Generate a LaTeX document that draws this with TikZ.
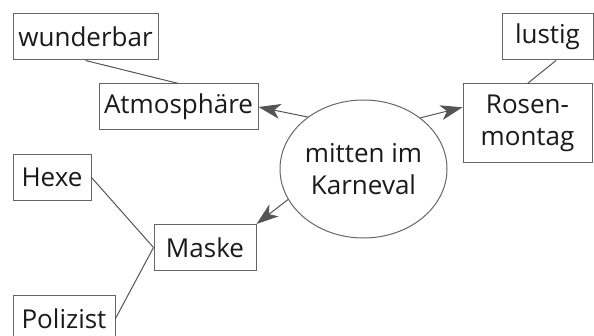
\documentclass[tikz,border=0pt]{standalone}
\usepackage{fontspec}
\setmainfont{Open Sans}
\usetikzlibrary{arrows.meta,shapes.geometric}
\definecolor{linegray}{HTML}{555555}
\definecolor{boxgray}{HTML}{666666}
\definecolor{textgray}{HTML}{1a1a1a}
\begin{document}
\begin{tikzpicture}[x=0.5pt,y=-0.5pt,
    every node/.style={draw=boxgray,line width=0.5pt,text=textgray,inner sep=0pt,
      font=\fontsize{13}{16}\selectfont},
    every edge/.style={draw=linegray,line width=0.5pt},
    wordbox/.style={rectangle,minimum height=23pt},
    topic/.style={ellipse,minimum width=83.5pt,minimum height=69pt,align=center},
    tip/.style={-{Stealth[length=11pt,width=7.5pt,inset=3pt]}}]
            \clip (0,0) rectangle (594,336);

            \node[topic] (mitte) at (363.5,169) {mitten im\\Karneval};

            \node[wordbox,minimum width=72.5pt] (wunderbar) at (85.5,37) {wunderbar};
            \node[wordbox,minimum width=79.5pt] (atmo) at (178.5,107) {Atmosphäre};

            \node[wordbox,minimum width=45.5pt] (lustig) at (547.5,37) {lustig};
            \node[wordbox,minimum width=64.5pt,minimum height=39.5pt,align=center] (rosen) at (527.5,123.5) {Rosen-\\montag};

            \node[wordbox,minimum width=39pt] (hexe) at (52,177.5) {Hexe};
            \node[wordbox,minimum width=51pt] (maske) at (205,247.5) {Maske};
            \node[wordbox,minimum width=51pt] (polizist) at (64,318.5) {Polizist};

            \path (mitte.137) edge[tip] (atmo.east);
            \path (mitte.42) edge[tip] (rosen.166);
            \path (mitte.202) edge[tip] (maske.north east);

            \path [-] (wunderbar.south) edge (atmo.north);
            \path [-] (lustig.290) edge (rosen.north);
            \path [-] (hexe.east) edge (maske.west);
            \path [-] (polizist.east) edge (maske.west);
        \end{tikzpicture}
\end{document}
